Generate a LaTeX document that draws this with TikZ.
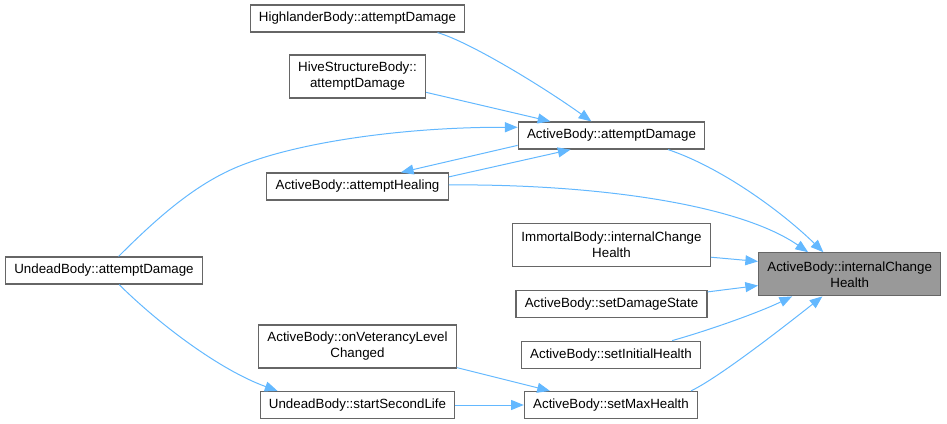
\documentclass[tikz,border=0pt]{standalone}
\usepackage{fontspec}
\setmainfont{Liberation Sans}
\usetikzlibrary{calc}
\usetikzlibrary{arrows.meta}
\definecolor{edgeblue}{HTML}{63B8FF}
\definecolor{boxgray}{HTML}{666666}
\definecolor{curgray}{HTML}{999999}
\tikzset{
 fnnode/.style={draw=boxgray, fill=white, line width=0.9pt, inner xsep=6.6pt, inner ysep=0pt, minimum height=20.25pt, align=center, font=\fontsize{10}{12}\selectfont},
 fntwo/.style={fnnode, minimum height=32.25pt},
 fncur/.style={fntwo, fill=curgray},
 calls/.style={edgeblue, line width=0.75pt, -{Triangle[length=9.5pt,width=7.5pt]}}
}
\begin{document}
\begin{tikzpicture}[x=0.75pt, y=-0.75pt]
\useasboundingbox (0,0) rectangle (947,424);
\node[fnnode] (HL) at (357.5,18.5) {HighlanderBody::attemptDamage};
\node[fntwo] (HS) at (357.5,76.5) {HiveStructureBody::\\attemptDamage};
\node[fnnode] (AD) at (611.5,135.5) {ActiveBody::attemptDamage};
\node[fnnode] (AH) at (357.5,186.5) {ActiveBody::attemptHealing};
\node[fnnode] (UA) at (104,270.5) {UndeadBody::attemptDamage};
\node[fntwo] (IB) at (611.5,245) {ImmortalBody::internalChange\\Health};
\node[fncur] (AI) at (849.7,274.3) {ActiveBody::internalChange\\Health};
\node[fnnode] (SD) at (611.5,303.7) {ActiveBody::setDamageState};
\node[fnnode] (SI) at (611,354.7) {ActiveBody::setInitialHealth};
\node[fntwo] (OV) at (357.5,346.5) {ActiveBody::onVeterancyLevel\\Changed};
\node[fnnode] (US) at (357.5,405) {UndeadBody::startSecondLife};
\node[fnnode] (SM) at (611,405) {ActiveBody::setMaxHealth};
\coordinate (UAbend) at (246.7,163.3);
\foreach \a/\b in {HS.-13.5/AD.167.5, AD.186/AH.18.6, AH.6.5/AD.199, IB.-7.3/AI.172.2, SD.7.4/AI.187.6, OV.-12.6/SM.167.9, US.east/SM.west}
 \draw[calls] (\a) -- (\b);
\draw[calls] (HL.-10.5) .. controls (470,42) and (545,88) .. (AD.145);
\draw[calls] (UA.44.6) .. controls (160,215) and (200,180) .. (UAbend) .. controls (300,143) and (400,127) .. (AD.175);
\draw[calls] (AD.-14.2) .. controls (720,167) and (780,210) .. (AI.140.6);
\draw[calls] (AH.1.4) .. controls (600,184) and (740,205) .. (AI.152.3);
\draw[calls] (SI.13.1) .. controls (710,330) and (760,312) .. (AI.201);
\draw[calls] (SM.10.9) .. controls (720,377) and (790,322) .. (AI.219.4);
\draw[calls] (UA.-43.4) .. controls (160,325) and (220,370) .. (US.170.3);
\end{tikzpicture}
\end{document}
